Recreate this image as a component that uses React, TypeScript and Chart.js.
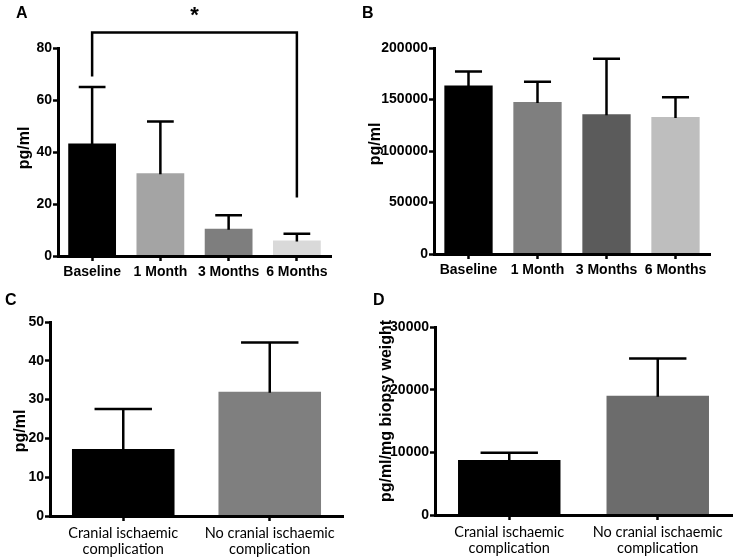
import React, { useEffect, useRef } from 'react';
import { Chart, registerables } from 'chart.js';

Chart.register(...registerables);

// ---------- Data ----------
const monthCategories = ['Baseline', '1 Month', '3 Months', '6 Months'];

const aValues = [43.3, 31.8, 10.5, 6.0];
const aErrors = [21.7, 19.9, 5.2, 2.6];
const aColors = ['#000000', '#a4a4a4', '#7e7e7e', '#d9d9d9'];
const aAxisMax = 80;
const aAxisStep = 20;
// significance bracket (Baseline vs 6 Months), in data units
const aBracket = { from: 0, to: 3, top: 86, leftEnd: 69, rightEnd: 22.5, label: '*', labelY: 90 };

const bValues = [163700, 147500, 135800, 132900];
const bErrors = [13600, 19700, 53800, 19400];
const bColors = ['#000000', '#7f7f7f', '#5b5b5b', '#bebebe'];
const bAxisMax = 200000;
const bAxisStep = 50000;

const complicationCategories = [
  ['Cranial ischaemic', 'complication'],
  ['No cranial ischaemic', 'complication'],
];

const cValues = [17.3, 32.0];
const cErrors = [10.3, 12.7];
const cColors = ['#000000', '#7f7f7f'];
const cAxisMax = 50;
const cAxisStep = 10;

const dValues = [8760, 19010];
const dErrors = [1170, 5950];
const dColors = ['#000000', '#6c6c6c'];
const dAxisMax = 30000;
const dAxisStep = 10000;

// ---------- Plugins ----------
const BOLD = '"Liberation Sans", Arial, Helvetica, sans-serif';

const errorBarPlugin = {
  id: 'errorBars',
  afterDatasetsDraw(chart: any) {
    const { ctx } = chart;
    const yScale = chart.scales.y;
    chart.data.datasets.forEach((ds: any, di: number) => {
      const meta = chart.getDatasetMeta(di);
      const errs: number[] = ds.errors || [];
      meta.data.forEach((bar: any, i: number) => {
        const v = ds.data[i];
        const e = errs[i] || 0;
        const yTop = yScale.getPixelForValue(v + e);
        const yBase = yScale.getPixelForValue(v);
        const half = bar.width * 0.28;
        ctx.save();
        ctx.strokeStyle = '#000';
        ctx.lineWidth = 2.5;
        ctx.beginPath();
        ctx.moveTo(bar.x, yBase + 1);
        ctx.lineTo(bar.x, yTop);
        ctx.moveTo(bar.x - half, yTop);
        ctx.lineTo(bar.x + half, yTop);
        ctx.stroke();
        ctx.restore();
      });
    });
  },
};

const yTitlePlugin = {
  id: 'yTitle',
  afterDraw(chart: any, _args: any, opts: any) {
    if (!opts || !opts.text) return;
    const { ctx, chartArea } = chart;
    ctx.save();
    ctx.translate(opts.x, (chartArea.top + chartArea.bottom) / 2 + (opts.dy || 0));
    ctx.rotate(-Math.PI / 2);
    ctx.font = `bold 16px ${BOLD}`;
    ctx.fillStyle = '#000';
    ctx.textAlign = 'center';
    ctx.textBaseline = 'middle';
    ctx.fillText(opts.text, 0, 0);
    ctx.restore();
  },
};

const letterPlugin = {
  id: 'panelLetter',
  afterDraw(chart: any, _args: any, opts: any) {
    if (!opts || !opts.text) return;
    const { ctx } = chart;
    ctx.save();
    ctx.font = `bold 16px ${BOLD}`;
    ctx.fillStyle = '#000';
    ctx.textAlign = 'left';
    ctx.textBaseline = 'alphabetic';
    ctx.fillText(opts.text, opts.x, opts.y);
    ctx.restore();
  },
};

const bracketPlugin = {
  id: 'bracket',
  afterDraw(chart: any, _args: any, opts: any) {
    if (!opts || opts.top === undefined) return;
    const { ctx } = chart;
    const xs = chart.scales.x;
    const ys = chart.scales.y;
    const x1 = xs.getPixelForValue(opts.from);
    const x2 = xs.getPixelForValue(opts.to);
    const yT = ys.getPixelForValue(opts.top);
    const yL = ys.getPixelForValue(opts.leftEnd);
    const yR = ys.getPixelForValue(opts.rightEnd);
    ctx.save();
    ctx.strokeStyle = '#000';
    ctx.lineWidth = 2.5;
    ctx.beginPath();
    ctx.moveTo(x1, yL);
    ctx.lineTo(x1, yT);
    ctx.lineTo(x2, yT);
    ctx.lineTo(x2, yR);
    ctx.stroke();
    ctx.font = `bold 22px ${BOLD}`;
    ctx.fillStyle = '#000';
    ctx.textAlign = 'center';
    ctx.textBaseline = 'alphabetic';
    ctx.fillText(opts.label, (x1 + x2) / 2, ys.getPixelForValue(opts.labelY));
    ctx.restore();
  },
};

// ---------- Panel ----------
type PanelSpec = {
  width: number;
  height: number;
  left: number;
  top: number;
  labels: any[];
  values: number[];
  errors: number[];
  colors: string[];
  max: number;
  step: number;
  barPct: number;
  pad: { top: number; right: number };
  yWidth: number;
  xHeight: number;
  xFont: any;
  xPad: number;
  title: { text: string; x: number; dy: number };
  letter: { text: string; x: number; y: number };
  bracket?: any;
};

function Panel({ spec }: { spec: PanelSpec }) {
  const ref = useRef<HTMLCanvasElement | null>(null);
  useEffect(() => {
    if (!ref.current) return;
    const axisBorder = { display: true, color: '#000', width: 3, z: 1 };
    const chart = new Chart(ref.current, {
      type: 'bar',
      data: {
        labels: spec.labels,
        datasets: [
          {
            data: spec.values,
            errors: spec.errors,
            backgroundColor: spec.colors,
            borderWidth: 0,
            barPercentage: spec.barPct,
            categoryPercentage: 1,
          } as any,
        ],
      },
      plugins: [errorBarPlugin, yTitlePlugin, letterPlugin, bracketPlugin],
      options: {
        responsive: false,
        animation: false,
        devicePixelRatio: 1,
        layout: { padding: { left: 0, top: spec.pad.top, right: spec.pad.right, bottom: 0 } },
        plugins: {
          legend: { display: false },
          tooltip: { enabled: false },
          yTitle: spec.title,
          panelLetter: spec.letter,
          bracket: spec.bracket || {},
        } as any,
        scales: {
          x: {
            type: 'category',
            afterFit: (s: any) => {
              s.height = spec.xHeight;
            },
            border: axisBorder,
            grid: {
              display: true,
              drawOnChartArea: false,
              drawTicks: true,
              tickLength: 5,
              tickWidth: 2.5,
              tickColor: '#000',
              offset: false,
            },
            ticks: {
              color: '#000',
              font: spec.xFont,
              padding: spec.xPad,
              maxRotation: 0,
              minRotation: 0,
              autoSkip: false,
            },
          },
          y: {
            type: 'linear',
            min: 0,
            max: spec.max,
            afterFit: (s: any) => {
              s.width = spec.yWidth;
            },
            border: axisBorder,
            grid: {
              display: true,
              drawOnChartArea: false,
              drawTicks: true,
              tickLength: 5,
              tickWidth: 2.5,
              tickColor: '#000',
            },
            ticks: {
              stepSize: spec.step,
              color: '#000',
              padding: 1,
              font: { family: BOLD, size: 14, weight: 'bold' },
              callback: (v: any) => String(v),
            },
          },
        } as any,
      },
    } as any);
    return () => chart.destroy();
  }, [spec]);
  return (
    <canvas
      ref={ref}
      width={spec.width}
      height={spec.height}
      style={{ position: 'absolute', left: spec.left, top: spec.top, width: spec.width, height: spec.height }}
    />
  );
}

const monthFont = { family: BOLD, size: 14, weight: 'bold', lineHeight: 1.2 };
const groupFont = { family: 'Lato, "Open Sans", sans-serif', size: 14.5, weight: 'normal', lineHeight: 1.05 };

const panels: PanelSpec[] = [
  {
    width: 356, height: 282, left: 0, top: 0,
    labels: monthCategories, values: aValues, errors: aErrors, colors: aColors,
    max: aAxisMax, step: aAxisStep, barPct: 0.7,
    pad: { top: 48, right: 25 }, yWidth: 58, xHeight: 26,
    xFont: monthFont, xPad: 3,
    title: { text: 'pg/ml', x: 25, dy: -4 },
    letter: { text: 'A', x: 16, y: 18 },
    bracket: aBracket,
  },
  {
    width: 381, height: 282, left: 356, top: 0,
    labels: monthCategories, values: bValues, errors: bErrors, colors: bColors,
    max: bAxisMax, step: bAxisStep, barPct: 0.7,
    pad: { top: 48, right: 27 }, yWidth: 78, xHeight: 28,
    xFont: monthFont, xPad: 3,
    title: { text: 'pg/ml', x: 20, dy: -7 },
    letter: { text: 'B', x: 6, y: 18 },
  },
  {
    width: 368, height: 278, left: 0, top: 282,
    labels: complicationCategories, values: cValues, errors: cErrors, colors: cColors,
    max: cAxisMax, step: cAxisStep, barPct: 0.7,
    pad: { top: 40, right: 25 }, yWidth: 50, xHeight: 44,
    xFont: groupFont, xPad: 5,
    title: { text: 'pg/ml', x: 21, dy: 12 },
    letter: { text: 'C', x: 5, y: 23 },
  },
  {
    width: 369, height: 278, left: 368, top: 282,
    labels: complicationCategories, values: dValues, errors: dErrors, colors: dColors,
    max: dAxisMax, step: dAxisStep, barPct: 0.69,
    pad: { top: 45, right: 5 }, yWidth: 67, xHeight: 45,
    xFont: groupFont, xPad: 5,
    title: { text: 'pg/ml/mg biopsy weight', x: 19, dy: -10 },
    letter: { text: 'D', x: 5, y: 23 },
  },
];

export default function App() {
  return (
    <div style={{ position: 'absolute', left: 0, top: 0, width: 737, height: 560, background: '#fff', overflow: 'hidden' }}>
      {panels.map((p, i) => (
        <Panel key={i} spec={p} />
      ))}
    </div>
  );
}
